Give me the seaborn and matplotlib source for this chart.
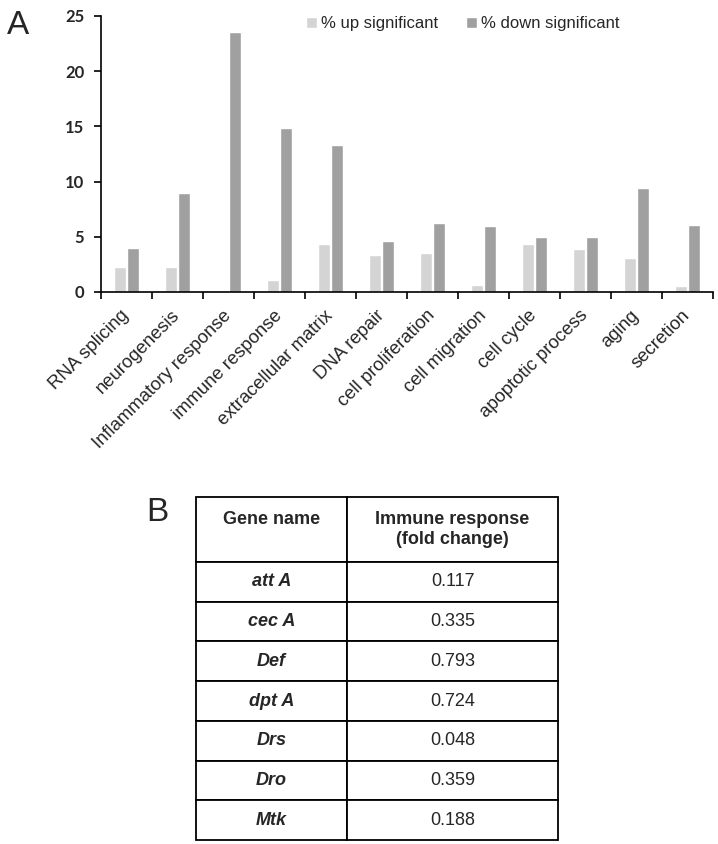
import matplotlib
matplotlib.use('Agg')
import matplotlib.pyplot as plt
import seaborn as sns
import pandas as pd
import numpy as np

categories = ["RNA splicing", "neurogenesis", "Inflammatory response", "immune response",
              "extracellular matrix", "DNA repair", "cell proliferation", "cell migration",
              "cell cycle", "apoptotic process", "aging", "secretion"]
up_significant = [2.26, 2.3, 0.0, 1.09, 4.34, 3.35, 3.56, 0.66, 4.31, 3.86, 3.05, 0.54]
down_significant = [4.0, 9.0, 23.55, 14.9, 13.33, 4.58, 6.24, 6.0, 5.0, 5.0, 9.44, 6.06]
series_names = ["% up significant", "% down significant"]
y_ticks = [0, 5, 10, 15, 20, 25]

gene_names = ["att A", "cec A", "Def", "dpt A", "Drs", "Dro", "Mtk"]
fold_change = ["0.117", "0.335", "0.793", "0.724", "0.048", "0.359", "0.188"]
table_header = ["Gene name\n ", "Immune response\n(fold change)"]

sns.set_theme(style="white")
plt.rcParams['font.family'] = ['Liberation Sans', 'DejaVu Sans']

df = pd.DataFrame({
    "category": categories * 2,
    "value": up_significant + down_significant,
    "series": [series_names[0]] * len(categories) + [series_names[1]] * len(categories),
})

W, H = 718, 844
fig = plt.figure(figsize=(W / 100, H / 100), dpi=100)
ax = fig.add_axes([101 / W, 1 - 292 / H, 612 / W, 276 / H])

sns.barplot(data=df, x="category", y="value", hue="series", order=categories,
            hue_order=series_names, palette=["#d4d4d4", "#a0a0a0"],
            width=0.52, gap=0.12, saturation=1, ax=ax)

ax.set_xlim(-0.5, len(categories) - 0.5)
ax.set_ylim(0, 25)
ax.set_yticks(y_ticks)
ax.set_yticklabels([str(t) for t in y_ticks], fontfamily='Lato', fontweight='bold', fontsize=12)
ax.set_xlabel("")
ax.set_ylabel("")
for s in ["top", "right"]:
    ax.spines[s].set_visible(False)
for s in ["left", "bottom"]:
    ax.spines[s].set_color("black")
    ax.spines[s].set_linewidth(1.2)

ax.set_xticks(np.arange(len(categories)))
ax.set_xticks(np.arange(-0.5, len(categories), 1), minor=True)
ax.tick_params(axis='x', which='major', length=0, pad=15)
ax.tick_params(axis='x', which='minor', length=5, width=1.2, color='black', bottom=True, direction='out')
ax.tick_params(axis='y', which='major', length=5, width=1.2, color='black', left=True, direction='out', pad=7)
ax.set_xticklabels(categories, rotation=45, ha='right', va='center', rotation_mode='anchor', fontsize=13.3)

leg = ax.legend(loc='upper left', bbox_to_anchor=(306 / W, 1 - 16 / H), bbox_transform=fig.transFigure,
                ncol=2, frameon=False, fontsize=12, handlelength=0.65, handleheight=0.65,
                handletextpad=0.25, columnspacing=1.7, borderaxespad=0, borderpad=0)

fig.text(7 / W, 1 - 10 / H, "A", fontsize=24, va='top', ha='left')
fig.text(146 / W, 1 - 497 / H, "B", fontsize=24, va='top', ha='left')

# table
ax2 = fig.add_axes([196 / W, 1 - 840 / H, (558 - 196) / W, (840 - 497) / H])
ax2.axis('off')
tbl = ax2.table(cellText=[[g, v] for g, v in zip(gene_names, fold_change)],
                colLabels=table_header, colWidths=[151, 211], cellLoc='center',
                bbox=[0, 0, 1, 1])
tbl.auto_set_font_size(False)
tbl.set_fontsize(13)
for (r, c), cell in tbl.get_celld().items():
    cell.set_height(65 if r == 0 else 39.7)
    cell.set_linewidth(1.3)
    cell.set_edgecolor('black')
    cell.set_facecolor('white')
    t = cell.get_text()
    if r == 0:
        t.set_fontweight('bold')
    elif c == 0:
        t.set_fontweight('bold')
        t.set_fontstyle('italic')

fig.savefig("out.png", dpi=100)
